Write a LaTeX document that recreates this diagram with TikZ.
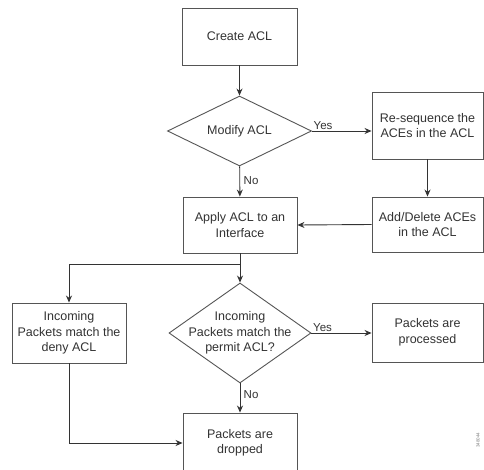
\documentclass[tikz,border=0pt]{standalone}
\usepackage{fontspec}
\setmainfont{Liberation Sans}
\usetikzlibrary{shapes.geometric,arrows.meta}
\definecolor{ink}{HTML}{333333}
\definecolor{edge}{HTML}{555555}
\begin{document}
\begin{tikzpicture}[x=1pt,y=-1pt,
  every node/.style={text=ink,font=\fontsize{12.5}{15.5}\selectfont},
  box/.style={draw=edge,line width=0.9pt,rectangle,inner sep=0pt,align=center},
  dia/.style={draw=edge,line width=0.9pt,diamond,inner sep=0pt},
  arr/.style={draw=ink,line width=0.9pt,-{Stealth[length=7pt,width=6pt]}},
  ln/.style={draw=ink,line width=0.9pt},
  lbl/.style={inner sep=1.5pt,font=\fontsize{11.5}{13}\selectfont}]
\clip (0,0) rectangle (484,470);
\fill[white] (0,0) rectangle (484,470);

\node[box,minimum width=115pt,minimum height=57pt] (create) at (239.5,36.5) {Create ACL};
\node[dia,minimum width=144pt,minimum height=70pt] (modify) at (239.5,131) {};
\node at (modify) {Modify ACL};
\node[box,minimum width=111pt,minimum height=67pt] (reseq) at (427.5,125.5) {Re-sequence the\\ACEs in the ACL};
\node[box,minimum width=111pt,minimum height=55pt] (adddel) at (427.5,224.5) {Add/Delete ACEs\\in the ACL};
\node[box,minimum width=114pt,minimum height=56pt] (apply) at (240,225) {Apply ACL to an\\Interface};
\node[box,minimum width=114pt,minimum height=60pt] (deny) at (69,333) {Incoming\\Packets match the\\deny ACL};
\node[dia,minimum width=142pt,minimum height=100pt] (permit) at (240,333) {};
\node[align=center] at (permit) {Incoming\\Packets match the\\permit ACL?};
\node[box,minimum width=111pt,minimum height=59pt] (processed) at (427.5,332.5) {Packets are\\processed};
\node[box,minimum width=114pt,minimum height=60pt] (dropped) at (240,443) {Packets are\\dropped};

\coordinate (split) at (240,264);

\draw[arr] (create) -- (modify);
\draw[arr] (modify.east) -- (reseq.west |- modify.east);
\draw[arr] (modify) -- (apply);
\draw[arr] (reseq) -- (adddel);
\draw[arr] (adddel.west) -- (apply.east);
\draw[ln] (apply.south) -- (split);
\draw[arr] (split) -- (permit.north);
\draw[arr] (split) -| (deny.north);
\draw[arr] (permit.east) -- (processed.west |- permit.east);
\draw[arr] (permit) -- (dropped);
\draw[arr] (deny.south) |- (dropped.west);

\node[lbl,anchor=south west] (yes1) at (modify.east) {Yes};
\node[lbl,anchor=west] (no1) at (242,181) {No};
\node[lbl,anchor=south west] (yes2) at (permit.east) {Yes};
\node[lbl,anchor=west] (no2) at (242,395) {No};
\node[rotate=90,font=\fontsize{4.5}{5}\selectfont,text=gray] (fig) at (478,440) {348044};
\end{tikzpicture}
\end{document}
